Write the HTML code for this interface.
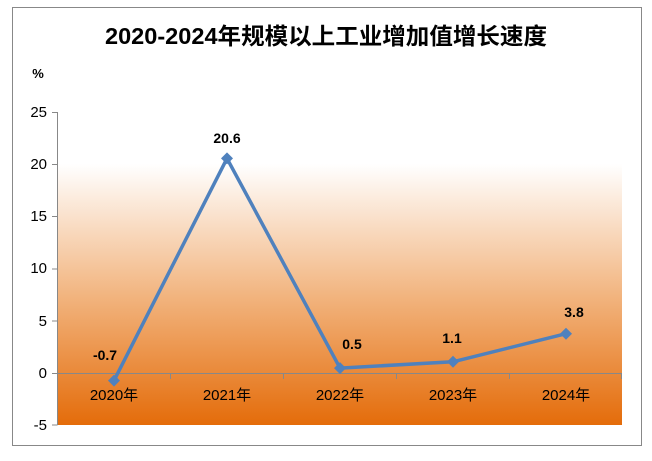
<!DOCTYPE html>
<html><head><meta charset="utf-8"><style>
body{margin:0;background:#fff;width:652px;height:456px;overflow:hidden}
svg text{font-family:"Liberation Sans","Noto Sans CJK SC",sans-serif}
</style></head><body>
<svg width="652" height="456" viewBox="0 0 652 456">
<defs><linearGradient id="g" x1="0" y1="0" x2="0" y2="1">
<stop offset="0" stop-color="#fff"/>
<stop offset="0.5" stop-color="#f2b580"/>
<stop offset="1" stop-color="#e46c0a"/>
</linearGradient></defs>
<rect x="12.5" y="7.5" width="629" height="438" fill="#fff" stroke="#888"/>
<text x="326" y="44" text-anchor="middle" font-size="23" font-weight="bold" textLength="442" lengthAdjust="spacingAndGlyphs">2020-2024<tspan>年规模以上工业增加值增长速度</tspan></text>
<text x="38" y="78" text-anchor="middle" font-size="13" font-weight="bold">%</text>
<rect x="58" y="164" width="564" height="261" fill="url(#g)"/>
<g stroke="#888" stroke-width="1">
<line x1="57.5" y1="112" x2="57.5" y2="425"/>
<line x1="52" y1="112.5" x2="57.5" y2="112.5"/>
<line x1="52" y1="164.5" x2="57.5" y2="164.5"/>
<line x1="52" y1="216.5" x2="57.5" y2="216.5"/>
<line x1="52" y1="269" x2="57.5" y2="269"/>
<line x1="52" y1="321" x2="57.5" y2="321"/>
<line x1="52" y1="425" x2="57.5" y2="425"/>
<line x1="52" y1="373.5" x2="622" y2="373.5"/>
<line x1="170.5" y1="373" x2="170.5" y2="379"/>
<line x1="283.5" y1="373" x2="283.5" y2="379"/>
<line x1="396.5" y1="373" x2="396.5" y2="379"/>
<line x1="509.5" y1="373" x2="509.5" y2="379"/>
<line x1="621.5" y1="373" x2="621.5" y2="379"/>
</g>
<g font-size="15" text-anchor="end" fill="#000">
<text x="47" y="117">25</text><text x="47" y="169">20</text><text x="47" y="221">15</text>
<text x="47" y="273">10</text><text x="47" y="326">5</text><text x="47" y="378">0</text><text x="47" y="430">-5</text>
</g>
<g font-size="15" text-anchor="middle">
<text x="114" y="400">2020年</text><text x="227" y="400">2021年</text><text x="340" y="400">2022年</text>
<text x="453" y="400">2023年</text><text x="566" y="400">2024年</text>
</g>
<polyline points="114,380.6 227,158.4 340,368.1 453,361.8 566,333.7" fill="none" stroke="#4f81bd" stroke-width="3.5" stroke-linejoin="round"/>
<g fill="#4f81bd">
<path d="M114 374.6l6 6-6 6-6-6z"/><path d="M227 152.4l6 6-6 6-6-6z"/><path d="M340 362.1l6 6-6 6-6-6z"/>
<path d="M453 355.8l6 6-6 6-6-6z"/><path d="M566 327.7l6 6-6 6-6-6z"/>
</g>
<g font-size="14" font-weight="bold" text-anchor="middle">
<text x="105" y="360">-0.7</text><text x="227" y="143">20.6</text><text x="352" y="349">0.5</text>
<text x="452" y="343">1.1</text><text x="574" y="317">3.8</text>
</g>
</svg>
</body></html>
